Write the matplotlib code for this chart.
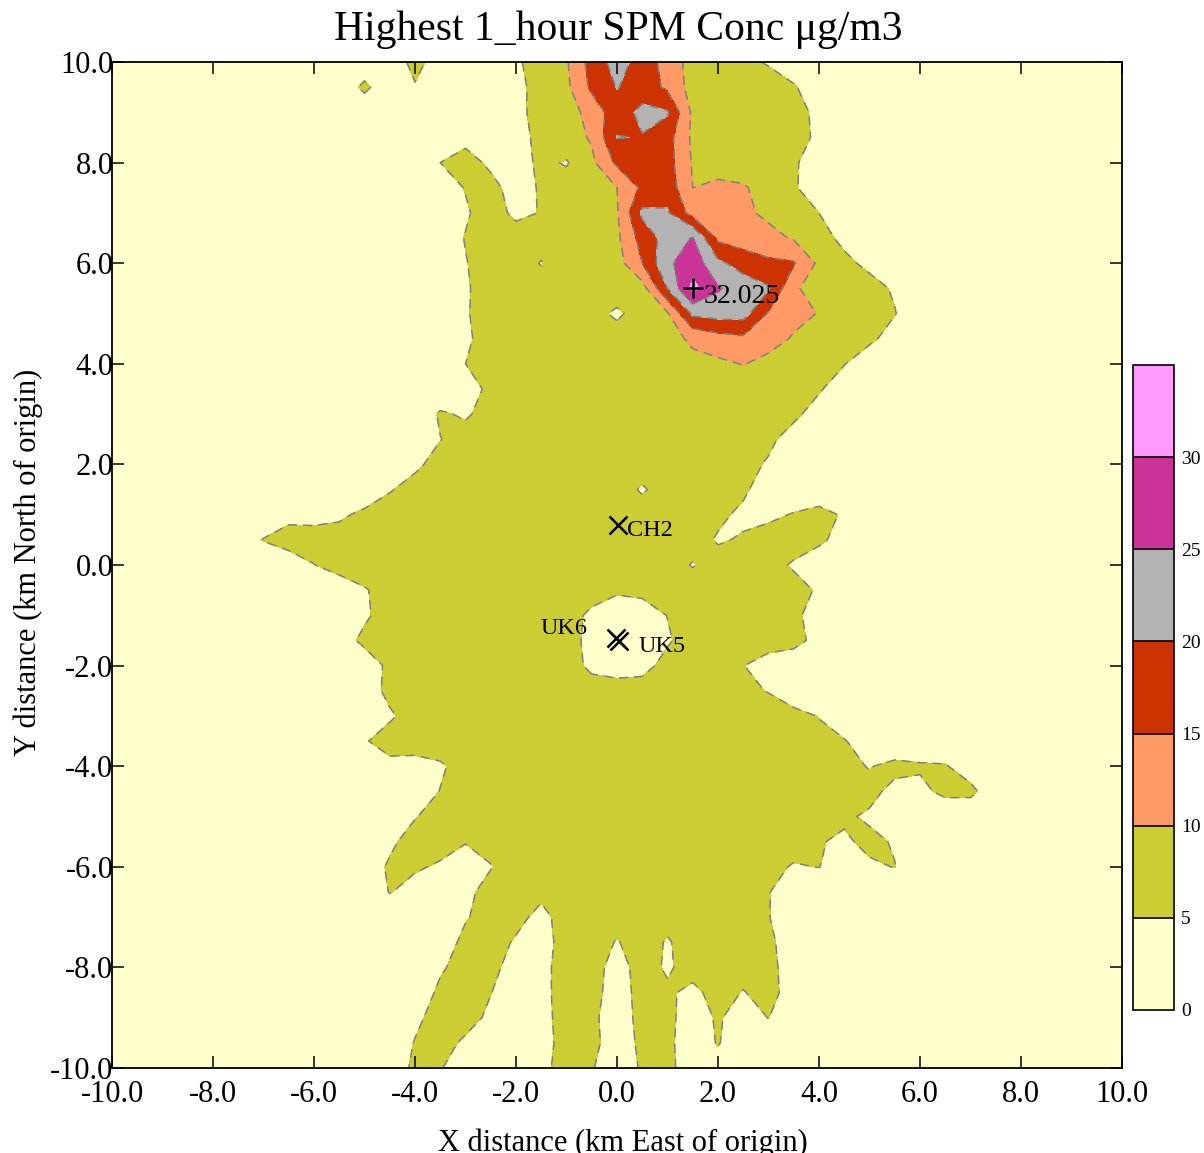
import numpy as np
import matplotlib
matplotlib.use("Agg")
import matplotlib.pyplot as plt
from matplotlib.ticker import FormatStrFormatter

plt.rcParams['font.family'] = ['Liberation Serif', 'DejaVu Serif']
plt.rcParams['lines.dashed_pattern'] = [6.0, 4.0]

# receptor grid, 0.5 km spacing
grid_x = np.linspace(-10, 10, 41)
grid_y = np.linspace(-10, 10, 41)
background = 2.0

# highest 1-hour SPM concentration (ug/m3)
# (row y, first x of the row, values every 0.5 km eastwards; rest is background)
conc_rows = [
    (10.0, -4.5, "1 7 2 2 2 4 8 9.5 17 22 18 13 8 7 6 4.6"),
    (9.5, -5.5, "2 6 2 4.5 2 2 2 3.5 7 9 16 20.2 18 14 8 8 7 7 5.5 2"),
    (9.0, -2.0, "3.5 7 7.5 12 18 21 20.5 9 8 7.5 7 6.5 4"),
    (8.5, -3.5, "2 3.5 2 3 6.5 8 10.5 20.2 19.8 17 9 8 7.5 7 7 4"),
    (8.0, -4.0, "2 5 7 4 3 6 4.6 9 16 18 17 9.5 8 7.5 7 5.5 3"),
    (7.5, -4.0, "2 3 5.2 6.5 3 5.5 7 8 10 16 18 10 11 10.5 8 5.5 2.5"),
    (7.0, -4.0, "2 3 4.5 7 4 5.2 7 8 9.5 21 20.5 13 11.5 11 9 7.5 5 3"),
    (6.5, -4.0, "2 2.5 5.2 7 7 6.5 7 8 9 17 22 25.3 14 12.5 11.5 9.5 6.5 4 2"),
    (6.0, -4.0, "2 2 4.8 7 7 4.8 7 7.5 8 15 24 28 21 18 16 15.5 9 6 4 2"),
    (5.5, -4.0, "2 2 4.5 7 7.5 6.5 7 7.5 7.5 8 20 31.5 25.5 22.5 20.5 10.5 8.5 7.5 6.5 4.5 2"),
    (5.0, -4.0, "2 2 4.5 7.5 7.5 7 7 6.5 4.2 7 9.5 21 22 22 14.5 11.5 9.8 8 7 5.2 2"),
    (4.5, -4.0, "2 2 4.2 7 7.5 7.5 7.5 7 7 7.5 8 11 13 14 12 9.5 8 7.5 6 3 2"),
    (4.0, -4.0, "2 2 5 7 7.5 7.5 7.5 7.5 7.5 7.5 8 8.5 9 10.2 8.5 8 7 5.2 2"),
    (3.5, -4.0, "2 2 3 6 7.5 7.5 7.5 7.5 7.5 7.5 7.5 7.5 7.5 7.5 7.5 7 5.5 2.5 2"),
    (3.0, -4.0, "2 5.5 4.5 6.5 7.5 7.5 7.5 7.5 7.5 7.5 7.5 7.5 7.5 7 7 6 3 2"),
    (2.5, -4.5, "2 2 4.9 6.5 7 7.5 7.5 7.5 7.5 7.5 7.5 7.5 7.5 7 6.5 6 3 2"),
    (2.0, -4.5, "2 4.2 6.5 7 7.5 7.5 7.5 7.5 7.5 7.5 7 7.5 7.5 7 6.5 4.5 2"),
    (1.5, -5.0, "2 4.7 6.5 7 7.5 7.5 7.5 7.5 7.5 7.5 7 4.5 7 7 6.5 5.8 2.5 2"),
    (1.0, -6.5, "4 3.5 4.2 6 7 7.5 7.5 7.5 7.5 7.5 7.5 7.5 7.5 7.5 7 7 6.5 6 4 4 5.3 6.5 4.5 2"),
    (0.5, -7.5, "2 5.2 6.5 7 7 7.5 7.5 7.5 7.5 7.5 7.5 7.5 7.5 7.5 7.5 7.5 7.5 7.5 7 4.5 5.5 7 7 6 3 2"),
    (0.0, -7.0, "2 3 4.9 7 7.5 7.5 7.5 7.5 7.5 7.5 7.5 7.5 7.5 7.5 7.5 7.5 7 4.7 7 7 6.5 4.5 2"),
    (-0.5, -5.5, "2 4.6 7 7.5 7.5 7.5 7.5 7.5 7.5 7.5 7 5.6 6 7 7.5 7.5 7.5 7 6.5 4.5 2"),
    (-1.0, -5.5, "2 4.3 7 7.5 7.5 7.5 7.5 7.5 7.5 7 4 2.5 3 5.1 7 7.5 7.5 7 6 3 2"),
    (-1.5, -6.0, "2 3 6 7 7.5 7.5 7.5 7.5 7.5 7.5 7 3.5 2 2.5 4.5 7 7.5 7.5 7 6.5 3.5 2"),
    (-2.0, -5.5, "2 2.5 6 7 7.5 7.5 7.5 7.5 7.5 7 4 3 3.5 6.5 7 6.5 5.1 3 2"),
    (-2.5, -5.5, "2 3 6 7 7.5 7.5 7.5 7.5 7.5 7.5 7 7 7 7.5 7.5 7 6 4.8 2"),
    (-3.0, -5.0, "2 4.5 6.5 7 7.5 7.5 7.5 7.5 7.5 7.5 7.5 7.5 7.5 7.5 7.5 7.5 7 6.5 4.8 2"),
    (-3.5, -5.5, "2 4.7 6.5 7 7 7.5 7.5 7.5 7.5 7.5 7.5 7.5 7.5 7.5 7.5 7.5 7.5 7.5 7 6.5 5.3 2.5 2"),
    (-4.0, -5.5, "2 4.5 4 3.5 4.5 6.5 7.5 7.5 7.5 7.5 7.5 7.5 7.5 7.5 7.5 7.5 7.5 7.5 7.5 7 6 4.8 6 5.5 5.3 3 2"),
    (-4.5, -4.5, "2 3 5.1 7 7.5 7.5 7.5 7.5 7.5 7.5 7.5 7.5 7.5 7.5 7.5 7.5 7.5 7 7 6 4 4 6 6 2.5"),
    (-5.0, -4.5, "2.5 4.8 6.5 7 7.5 7.5 7.5 7.5 7.5 7.5 7.5 7.5 7.5 7.5 7.5 7.5 7.5 7 5.5 4.5 2"),
    (-5.5, -5.0, "2 4.3 6.5 6.5 5.2 6.5 7.5 7.5 7.5 7.5 7.5 7.5 7.5 7.5 7.5 7.5 7 6.5 5.2 4.5 5.8 4.7 2"),
    (-6.0, -5.0, "3 5.5 5.5 4.5 3 4.8 6.5 7 7.5 7.5 7.5 7.5 7.5 7.5 7 7 6 4.7 5.1 3 4.5 5.1 2"),
    (-6.5, -5.0, "2 5.2 3.5 2.5 4 6.5 7 5.8 7 7.5 7.5 7.5 7.5 7.5 7.5 7 5.2 2.5"),
    (-7.0, -3.5, "2.5 4.7 6.5 6 4 6.5 7 6 7 6 7 7 6.5 5.2 2"),
    (-7.5, -3.5, "3 6 6.5 4.6 3.5 6.5 6.5 4.8 6.5 4.7 6.5 7 7 6 2.5"),
    (-8.0, -4.0, "2 4.5 6.5 6 3.5 4 6.5 6.5 3.5 6.5 4.5 6.5 6.5 6.5 6.5 2.5"),
    (-8.5, -4.0, "2.5 5.8 6.5 5.1 3 4 6.5 6.5 3 6.5 5.6 4 6.5 4.8 6.5 3"),
    (-9.0, -4.5, "2 4.2 6.5 6.5 4.2 2.5 3.8 6.5 6 2.5 6.5 6 3 5.5 3 5.1 2"),
    (-9.5, -4.5, "2.5 5.2 6.5 4.3 2.5 2 3.5 6.5 6.3 2.5 6 6 2.5 5.3 2"),
    (-10.0, -4.5, "2 6 5.3 2.5 2 2 4 6.5 5.3 2.5 5.5 6.2 2.5 3.5 2"),
]

levels = [0, 5, 10, 15, 20, 25, 30, 35]
level_colors = ['#FFFFCC', '#CCCC33', '#FF9966', '#CC3300',
                '#B3B3B3', '#CC3399', '#FF99FF']

peak_x, peak_y, peak_label = 1.5, 5.5, '32.025'
rec_names = ['CH2', 'UK5', 'UK6']
rec_x = [0.02, 0.03, -0.02]
rec_y = [0.8, -1.52, -1.46]

# fill the grid
Z = np.full((len(grid_y), len(grid_x)), background)
for y, x0, vals in conc_rows:
    v = [float(s) for s in vals.split()]
    j = int(round((y + 10) / 0.5))
    i0 = int(round((x0 + 10) / 0.5))
    Z[j, i0:i0 + len(v)] = v

W, H = 1204, 1153
fig = plt.figure(figsize=(W / 100, H / 100), dpi=100, facecolor='w')
ax = fig.add_axes([112 / W, 85 / H, 1010 / W, 1006 / H])

cf = ax.contourf(grid_x, grid_y, Z, levels=levels, colors=level_colors)
ax.contour(grid_x, grid_y, Z, levels=levels[1:-1], colors='#808080',
           linewidths=1.1, linestyles='dashed')

# peak and receptors
ax.plot(peak_x, peak_y, marker='+', ms=15, mew=1.8, color='k', ls='none')
ax.text(peak_x + 0.22, peak_y - 0.17, peak_label, fontsize=20,
        ha='left', va='center')
ax.plot(rec_x, rec_y, marker='x', ms=13, mew=1.8, color='k', ls='none')
ax.text(0.2, 0.68, rec_names[0], fontsize=17.5, ha='left', va='center')
ax.text(0.42, -1.63, rec_names[1], fontsize=17.5, ha='left', va='center')
ax.text(-0.58, -1.27, rec_names[2], fontsize=17.5, ha='right', va='center')

ax.set_xlim(-10, 10)
ax.set_ylim(-10, 10)
ax.set_xticks(np.arange(-10, 10.1, 2))
ax.set_yticks(np.arange(-10, 10.1, 2))
ax.xaxis.set_major_formatter(FormatStrFormatter('%.1f'))
ax.yaxis.set_major_formatter(FormatStrFormatter('%.1f'))
ax.tick_params(direction='in', length=8.5, width=1.1, top=True, right=True,
               labelsize=22, colors='k')
ax.tick_params(axis='x', pad=9)
ax.tick_params(axis='y', pad=-1)
for s in ax.spines.values():
    s.set_linewidth(1.3)

fig.text(618 / W, 1 - 30 / H, 'Highest 1_hour SPM Conc \u03bcg/m3',
         fontsize=30, ha='center', va='center')
fig.text(623 / W, 1 - 1143 / H, 'X distance (km East of origin)',
         fontsize=22, ha='center', va='center')
fig.text(28 / W, 1 - 562 / H, 'Y distance (km North of origin)',
         fontsize=22, ha='center', va='center', rotation=90)

# colour key
cax = fig.add_axes([1133 / W, 143 / H, 41 / W, 645 / H])
cb = fig.colorbar(cf, cax=cax, drawedges=True)
cb.set_ticks(levels[:-1])
cb.set_ticklabels([str(l) for l in levels[:-1]])
cb.ax.tick_params(length=0, labelsize=14, pad=5)
cb.outline.set_linewidth(1.2)
cb.dividers.set_color('k')
cb.dividers.set_linewidth(1.2)

fig.savefig('out.png', dpi=100)
